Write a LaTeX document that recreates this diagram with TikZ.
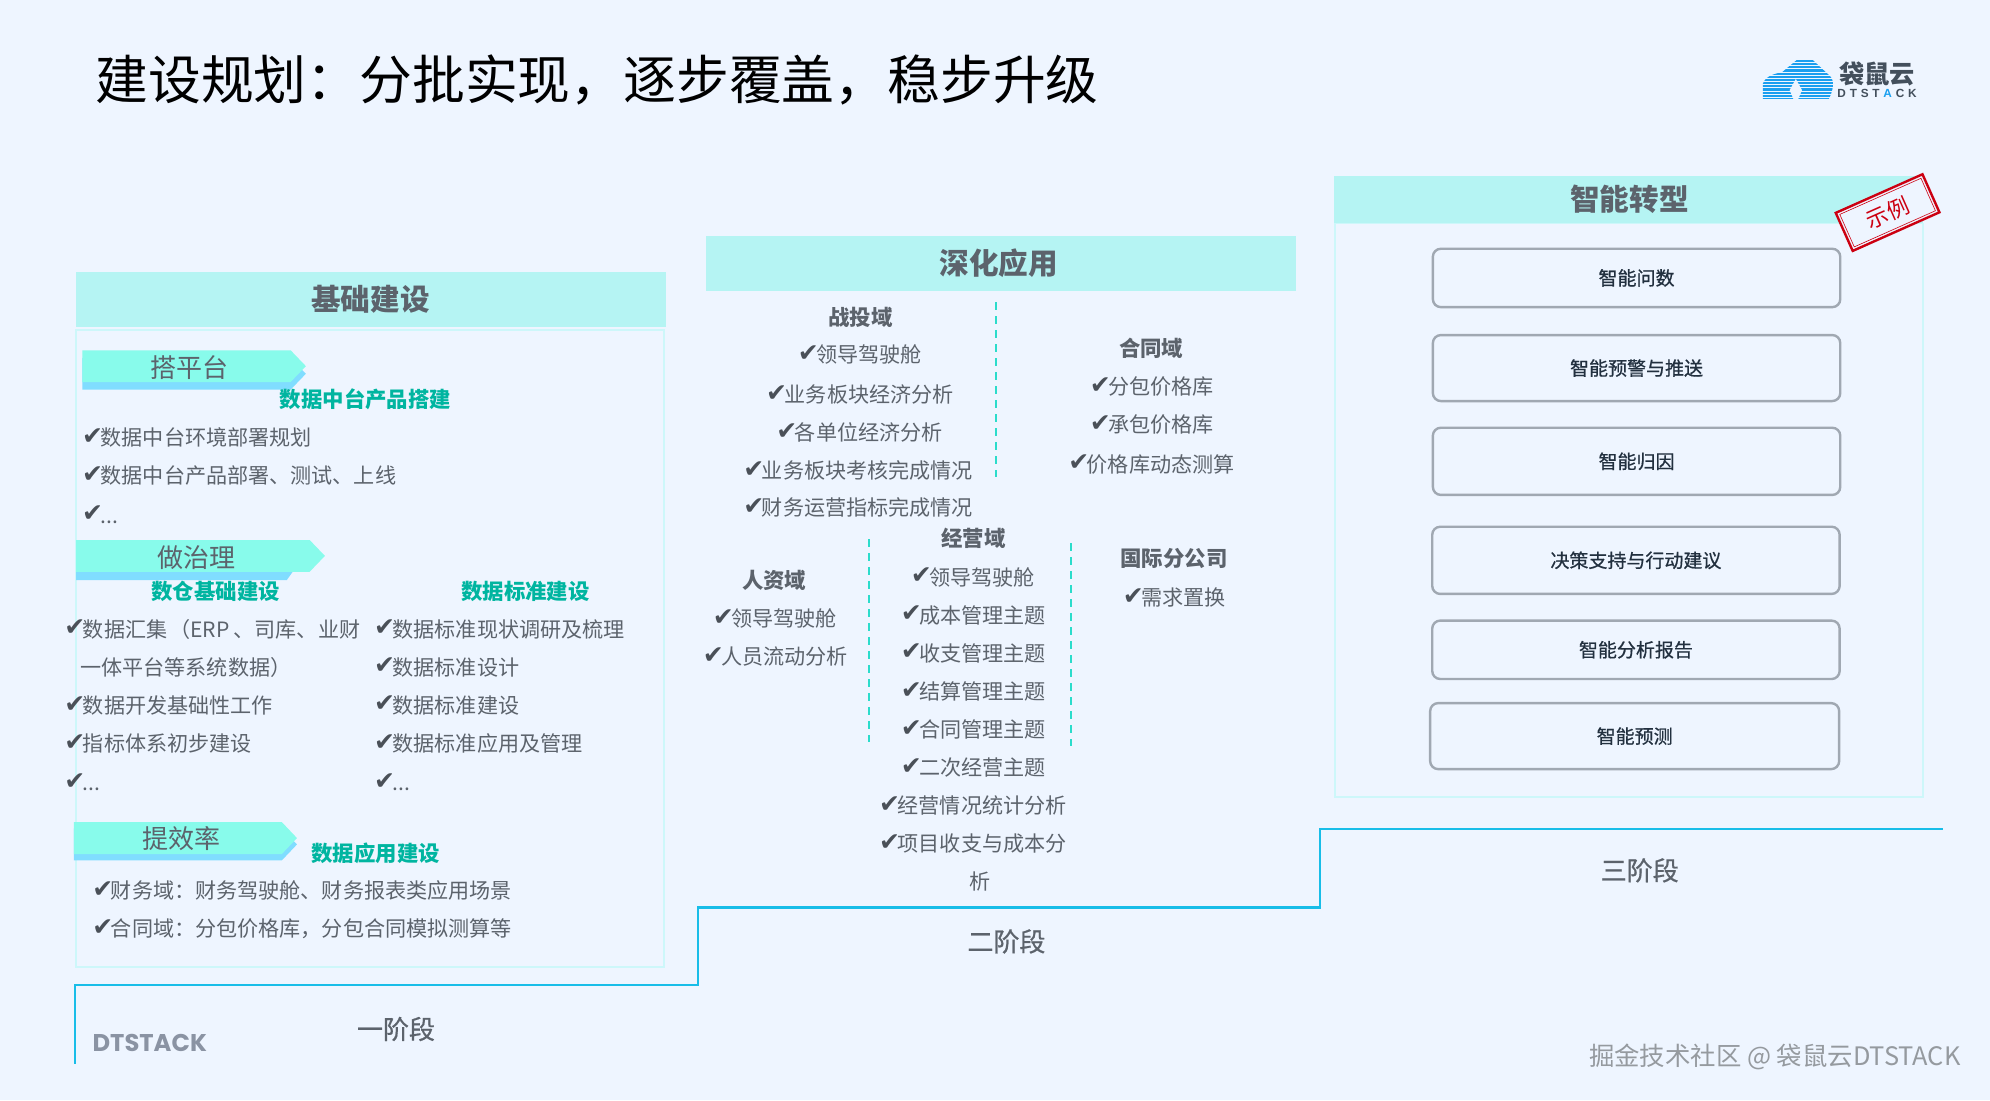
\documentclass[tikz,border=0pt]{standalone}
\usepackage{fontspec}
\setmainfont{Noto Sans CJK SC}
\newfontfamily\chkfont{DejaVu Sans}
\newfontfamily\latfont{Liberation Sans}
\newfontfamily\dtsfont{Poppins}
\newfontfamily\midfont[FakeBold=0.7]{Noto Sans CJK SC}
\definecolor{bgc}{HTML}{EEF5FF}
\definecolor{hdr}{HTML}{B5F4F3}
\definecolor{pan}{HTML}{CDF7FA}
\definecolor{txt}{HTML}{5C636C}
\definecolor{grn}{HTML}{00B5A0}
\definecolor{arr}{HTML}{88FBEB}
\definecolor{arrb}{HTML}{80DDFF}
\definecolor{stp}{HTML}{18BDE8}
\definecolor{boxl}{HTML}{A0A8B2}
\definecolor{dark}{HTML}{22303F}
\definecolor{stamp}{HTML}{CC0011}
\definecolor{logoc}{HTML}{1A9FEF}
\definecolor{dtsc}{HTML}{8A93A3}
\definecolor{dashc}{HTML}{2BDCCB}
\definecolor{chkc}{HTML}{4A5058}
\tikzset{
 x=0.63457pt,y=-0.63457pt,
 panel/.style={draw=pan,line width=0.8pt},
 head/.style={font=\fontsize{14.8}{16}\selectfont\bfseries,text=txt,inner sep=0pt},
 plate/.style={font=\fontsize{13}{15}\selectfont,text=txt,inner sep=0pt,yshift=-0.3pt},
 green/.style={font=\fontsize{10.7}{12}\selectfont\bfseries,text=grn,inner sep=0pt,yshift=-0.4pt},
 dom/.style={font=\fontsize{10.7}{12}\selectfont\bfseries,text=txt,inner sep=0pt,yshift=-0.2pt},
 itm/.style={font=\fontsize{10.55}{12}\selectfont,text=txt,inner sep=0pt,anchor=west,yshift=-0.4pt},
 stage/.style={font=\midfont\fontsize{13}{15}\selectfont,text=txt,inner sep=0pt,yshift=-0.5pt},
 capbox/.style={draw=boxl,line width=1.2pt,rounded corners=4pt,fill=bgc,font=\midfont\fontsize{9.5}{11}\selectfont,text=dark,inner sep=0pt},
 dashl/.style={draw=dashc,line width=1pt,dash pattern=on 4pt off 3pt},
}
\newcommand\chk[4]{\node[itm] (#1) at (#2,#3) {\makebox[8.3pt][l]{\kern-1pt\raisebox{0.6pt}{\chkfont\fontsize{12.5}{12}\selectfont\textcolor{chkc}{✔}}}#4};}
% x1 shoulder tip ytop ybot blueshift
\newcommand\arrowtag[6]{%
 \fill[arrb] (#1,{#4+#6}) -- (#2,{#4+#6}) -- (#3,{(#4+#5)/2+#6}) -- (#2,{#5+#6}) -- (#1,{#5+#6}) -- cycle;
 \fill[arr] (#1,#4) -- (#2,#4) -- (#3,{(#4+#5)/2}) -- (#2,#5) -- (#1,#5) -- cycle;
}
\begin{document}
\begin{tikzpicture}
\useasboundingbox (0,0) rectangle (1568,866.8);
\fill[bgc] (0,0) rectangle (1568,866.8);
% title
\node[anchor=west,inner sep=0pt,font=\fontsize{26.4}{30}\selectfont,text=black] (title) at (75,63) {建设规划：分批实现，逐步覆盖，稳步升级};
% logo
\begin{scope}
\clip (1389,78) -- (1389,66) .. controls (1391,60) and (1398,58) .. (1404,57) -- (1416,47) -- (1428,47) -- (1442,60) .. controls (1446,64) and (1444,72) .. (1441,78) -- (1417,78) -- (1420,71) -- (1415,62) -- (1410,71) -- (1413,78) -- cycle;
\foreach \yy in {48,50.5,...,78}{\draw[logoc,line width=1.1pt] (1385,\yy) -- (1446,\yy);}
\end{scope}
\node[inner sep=0pt,font=\fontsize{12.6}{14}\selectfont\bfseries,text=dark!85] (logoa) at (1479,58.5) {袋鼠云};
\node[inner sep=0pt,font=\latfont\fontsize{5.9}{6}\selectfont\bfseries,text=dark!85] (logob) at (1479,73.5) {D\kern1.9pt T\kern1.9pt S\kern1.9pt T\kern1.9pt \textcolor{logoc}{A}\kern1.9pt C\kern1.9pt K};
% stage steps
\draw[stp,line width=1.2pt] (59,838) -- (59,776) -- (550,776) -- (550,715) -- (1040,715) -- (1040,653) -- (1531,653);
\node[stage] (s1) at (312,810) {一阶段};
\node[stage] (s2) at (793,741) {二阶段};
\node[stage] (s3) at (1292,685) {三阶段};
\node[inner sep=0pt,font=\dtsfont\fontsize{12.1}{13}\selectfont\bfseries,text=dtsc] (dts) at (118,822) {DTSTACK};
% stage 1
\draw[panel] (60,260) rectangle (523,762);
\fill[hdr] (60,214.5) rectangle (525,257.5);
\node[head] (h1) at (292,236) {基础建设};
\arrowtag{65}{229}{241}{276}{301}{6}
\node[plate] (a1t) at (149.5,289) {搭平台};
\fill[arrb] (60,450) -- (231,450) -- (226,457) -- (60,457) -- cycle;
\fill[arr] (60,425.5) -- (244,425.5) -- (256,438) -- (244,450.5) -- (60,450.5) -- cycle;
\node[plate] (a2t) at (155,439) {做治理};
\arrowtag{58.3}{222}{234}{647.7}{673}{5}
\node[plate] (a3t) at (143,660) {提效率};
\node[green] (g1) at (288,314) {数据中台产品搭建};
\chk{i1}{66}{344}{数据中台环境部署规划}
\chk{i2}{66}{374}{数据中台产品部署、测试、上线}
\chk{i3}{66}{405}{...}
\node[green] (g2) at (170,465) {数仓基础建设};
\node[green] (g3) at (414,465) {数据标准建设};
\chk{j1}{52}{495}{数据汇集\kern1pt（ERP\kern2pt、司库、业财}
\node[itm] (j1b) at (63,525) {一体平台等系统数据）};
\chk{j2}{52}{555}{数据开发基础性工作}
\chk{j3}{52}{585}{指标体系初步建设}
\chk{j4}{52}{616}{...}
\chk{k1}{296}{495}{数据标准现状调研及梳理}
\chk{k2}{296}{525}{数据标准设计}
\chk{k3}{296}{555}{数据标准建设}
\chk{k4}{296}{585}{数据标准应用及管理}
\chk{k5}{296}{616}{...}
\node[green] (g4) at (296,672) {数据应用建设};
\chk{m1}{74}{701}{财务域：财务驾驶舱、财务报表类应用场景}
\chk{m2}{74}{731}{合同域：分包价格库，分包合同模拟测算等}
% stage 2
\fill[hdr] (556,186) rectangle (1021,229);
\node[head] (h2) at (787,207) {深化应用};
\draw[dashl] (785,238) -- (785,376);
\draw[dashl] (685,425) -- (685,585);
\draw[dashl] (844,428) -- (844,588);
\node[dom] (d1) at (678,250) {战投域};
\chk{n1}{630}{279}{领导驾驶舱}
\chk{n2}{605}{310}{业务板块经济分析}
\chk{n3}{613}{340}{各单位经济分析}
\chk{n4}{587}{370}{业务板块考核完成情况}
\chk{n5}{587}{399}{财务运营指标完成情况}
\node[dom] (d2) at (907,274) {合同域};
\chk{o1}{860}{304}{分包价格库}
\chk{o2}{860}{334}{承包价格库}
\chk{o3}{843}{365}{价格库动态测算}
\node[dom] (d3) at (767,424) {经营域};
\chk{p1}{719}{454}{领导驾驶舱}
\chk{p2}{711}{484}{成本管理主题}
\chk{p3}{711}{514}{收支管理主题}
\chk{p4}{711}{544}{结算管理主题}
\chk{p5}{711}{574}{合同管理主题}
\chk{p6}{711}{604}{二次经营主题}
\chk{p7}{694}{634}{经营情况统计分析}
\chk{p8}{694}{664}{项目收支与成本分}
\node[itm,anchor=center] (p8b) at (772,694) {析};
\node[dom] (d4) at (610,457) {人资域};
\chk{q1}{563}{487}{领导驾驶舱}
\chk{q2}{555}{517}{人员流动分析}
\node[dom] (d5) at (925,440) {国际分公司};
\chk{r1}{886}{470}{需求置换}
% stage 3
\draw[panel] (1052,176) rectangle (1515,628);
\fill[hdr] (1051,139) rectangle (1515,176);
\node[head] (h3) at (1284,157) {智能转型};
\node[capbox,minimum width=203.7pt,minimum height=29.2pt] (b1) at (1289.5,219) {智能问数};
\node[capbox,minimum width=203.7pt,minimum height=33pt] (b2) at (1289.5,290) {智能预警与推送};
\node[capbox,minimum width=203.7pt,minimum height=33.6pt] (b3) at (1289.5,363.5) {智能归因};
\node[capbox,minimum width=203.7pt,minimum height=33.6pt] (b4) at (1289,441.5) {决策支持与行动建议};
\node[capbox,minimum width=203.7pt,minimum height=29.2pt] (b5) at (1289,512) {智能分析报告};
\node[capbox,minimum width=204.5pt,minimum height=33pt] (b6) at (1288,580) {智能预测};
% stamp
\fill[bgc,rotate around={24:(1487.3,167.5)}] (1487.3-37.8,167.5-16.7) rectangle (1487.3+37.8,167.5+16.7);
\draw[stamp,line width=1.2pt,rotate around={24:(1487.3,167.5)}] (1487.3-37.4,167.5-16.4) rectangle (1487.3+37.4,167.5+16.4);
\draw[stamp,line width=0.3pt,rotate around={24:(1487.3,167.5)}] (1487.3-35,167.5-14) rectangle (1487.3+35,167.5+14);
\node[rotate=24,inner sep=0pt,text=stamp,font=\fontsize{11}{12}\selectfont] (st) at (1487.3,167.5) {示例};
% watermark
\node[anchor=east,inner sep=0pt,font=\fontsize{12.7}{15}\selectfont,text=txt!65] (wm) at (1545,833) {掘金技术社区 @ 袋鼠云DTSTACK};
\end{tikzpicture}
\end{document}
